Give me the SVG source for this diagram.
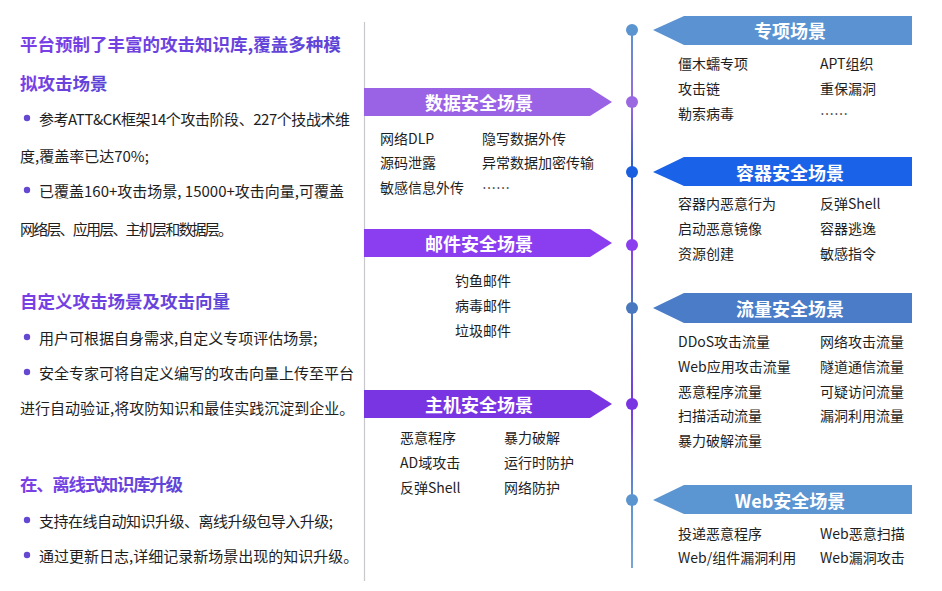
<svg xmlns="http://www.w3.org/2000/svg" width="942" height="591" viewBox="0 0 942 591">
<defs>
<linearGradient id="hg" x1="0" y1="0" x2="1" y2="0">
<stop offset="0" stop-color="#7a3fe6"/>
<stop offset="1" stop-color="#5c45d6"/>
</linearGradient>
<linearGradient id="tl" gradientUnits="userSpaceOnUse" x1="0" y1="30" x2="0" y2="568">
<stop offset="0" stop-color="#5b95d0"/>
<stop offset="0.134" stop-color="#9a68e0"/>
<stop offset="0.264" stop-color="#2a5fc8"/>
<stop offset="0.40" stop-color="#8a40ea"/>
<stop offset="0.517" stop-color="#4a78c0"/>
<stop offset="0.695" stop-color="#7a38e0"/>
<stop offset="0.874" stop-color="#5b95d0"/>
<stop offset="1" stop-color="#7aa5d8"/>
</linearGradient>
</defs>
<style>
text{font-family:"Noto Sans CJK SC","Noto Sans",sans-serif;dominant-baseline:central}
.h{font-size:17.5px;font-weight:700;fill:url(#hg)}
.b{font-size:15px;fill:#1e1e1e}
.i{font-size:14px;fill:#1e1e1e}
.t{font-size:18px;font-weight:700;fill:#fff;text-anchor:middle}
.bul{fill:#6548d2}
</style>
<rect width="942" height="591" fill="#fff"/>

<g id="left-text">
<text class="h" x="20" y="43">平台预制了丰富的攻击知识库,覆盖多种模</text>
<text class="h" x="20" y="82">拟攻击场景</text>
<circle class="bul" cx="27" cy="118" r="3.2"/>
<text class="b" x="39" y="118" textLength="311">参考ATT&amp;CK框架14个攻击阶段、227个技战术维</text>
<text class="b" x="20" y="155">度,覆盖率已达70%;</text>
<circle class="bul" cx="27" cy="190" r="3.2"/>
<text class="b" x="39" y="190">已覆盖160+攻击场景, 15000+攻击向量,可覆盖</text>
<text class="b" x="20" y="228" textLength="213">网络层、应用层、主机层和数据层。</text>

<text class="h" x="20" y="300">自定义攻击场景及攻击向量</text>
<circle class="bul" cx="27" cy="337" r="3.2"/>
<text class="b" x="39" y="337">用户可根据自身需求,自定义专项评估场景;</text>
<circle class="bul" cx="27" cy="372" r="3.2"/>
<text class="b" x="39" y="372">安全专家可将自定义编写的攻击向量上传至平台</text>
<text class="b" x="20" y="407">进行自动验证,将攻防知识和最佳实践沉淀到企业。</text>

<text class="h" x="20" y="483" textLength="163">在、离线式知识库升级</text>
<circle class="bul" cx="27" cy="520" r="3.2"/>
<text class="b" x="39" y="520" textLength="294">支持在线自动知识升级、离线升级包导入升级;</text>
<circle class="bul" cx="27" cy="555" r="3.2"/>
<text class="b" x="39" y="555">通过更新日志,详细记录新场景出现的知识升级。</text>
</g>

<g id="connectors">
<line x1="364.5" y1="22" x2="364.5" y2="581" stroke="#c8c8cc" stroke-width="1.2"/>
<line x1="632" y1="30" x2="632" y2="568" stroke="url(#tl)" stroke-width="2"/>
<circle cx="632" cy="30" r="6" fill="#5b95d0"/>
<circle cx="632" cy="102" r="6" fill="#9a68e0"/>
<circle cx="632" cy="172" r="6" fill="#1a5fe0"/>
<circle cx="632" cy="245" r="6" fill="#8a3eee"/>
<circle cx="632" cy="308" r="6" fill="#4a78c0"/>
<circle cx="632" cy="404" r="6" fill="#7a35e2"/>
<circle cx="632" cy="500" r="6" fill="#5b95d0"/>
</g>

<g id="data-security">
<polygon points="364,88 590,88 612,102 590,116 364,116" fill="#9a63e6"/>
<text class="t" x="479" y="102">数据安全场景</text>
<text class="i" x="380" y="138">网络DLP</text>
<text class="i" x="482" y="138">隐写数据外传</text>
<text class="i" x="380" y="162">源码泄露</text>
<text class="i" x="482" y="162">异常数据加密传输</text>
<text class="i" x="380" y="187">敏感信息外传</text>
<text class="i" x="482" y="187">……</text>
</g>

<g id="mail-security">
<polygon points="364,229 590,229 612,243 590,257 364,257" fill="#8a3ef0"/>
<text class="t" x="479" y="243">邮件安全场景</text>
<text class="i" x="455" y="280">钓鱼邮件</text>
<text class="i" x="455" y="305">病毒邮件</text>
<text class="i" x="455" y="330">垃圾邮件</text>
</g>

<g id="host-security">
<polygon points="364,390 590,390 612,404 590,418 364,418" fill="#7a35e2"/>
<text class="t" x="479" y="404">主机安全场景</text>
<text class="i" x="400" y="437">恶意程序</text>
<text class="i" x="504" y="437">暴力破解</text>
<text class="i" x="400" y="462">AD域攻击</text>
<text class="i" x="504" y="462">运行时防护</text>
<text class="i" x="400" y="487">反弹Shell</text>
<text class="i" x="504" y="487">网络防护</text>
</g>

<g id="special-scenarios">
<polygon points="653,30 684,16 912,16 912,45 684,45" fill="#5b93d2"/>
<text class="t" x="790" y="30">专项场景</text>
<text class="i" x="678" y="63">僵木蠕专项</text>
<text class="i" x="820" y="63">APT组织</text>
<text class="i" x="678" y="88">攻击链</text>
<text class="i" x="820" y="88">重保漏洞</text>
<text class="i" x="678" y="113">勒索病毒</text>
<text class="i" x="820" y="113">……</text>
</g>

<g id="container-security">
<polygon points="653,172 684,157 912,157 912,186 684,186" fill="#1a62e8"/>
<text class="t" x="790" y="172">容器安全场景</text>
<text class="i" x="678" y="203">容器内恶意行为</text>
<text class="i" x="820" y="203">反弹Shell</text>
<text class="i" x="678" y="228">启动恶意镜像</text>
<text class="i" x="820" y="228">容器逃逸</text>
<text class="i" x="678" y="253">资源创建</text>
<text class="i" x="820" y="253">敏感指令</text>
</g>

<g id="traffic-security">
<polygon points="653,308 684,293 912,293 912,323 684,323" fill="#4a7cc8"/>
<text class="t" x="790" y="308">流量安全场景</text>
<text class="i" x="678" y="341">DDoS攻击流量</text>
<text class="i" x="820" y="341">网络攻击流量</text>
<text class="i" x="678" y="366">Web应用攻击流量</text>
<text class="i" x="820" y="366">隧道通信流量</text>
<text class="i" x="678" y="391">恶意程序流量</text>
<text class="i" x="820" y="391">可疑访问流量</text>
<text class="i" x="678" y="415">扫描活动流量</text>
<text class="i" x="820" y="415">漏洞利用流量</text>
<text class="i" x="678" y="440">暴力破解流量</text>
</g>

<g id="web-security">
<polygon points="653,500 684,485 912,485 912,514 684,514" fill="#5b95d2"/>
<text class="t" x="790" y="500">Web安全场景</text>
<text class="i" x="678" y="533">投递恶意程序</text>
<text class="i" x="820" y="533">Web恶意扫描</text>
<text class="i" x="678" y="557">Web/组件漏洞利用</text>
<text class="i" x="820" y="557">Web漏洞攻击</text>
</g>
</svg>
